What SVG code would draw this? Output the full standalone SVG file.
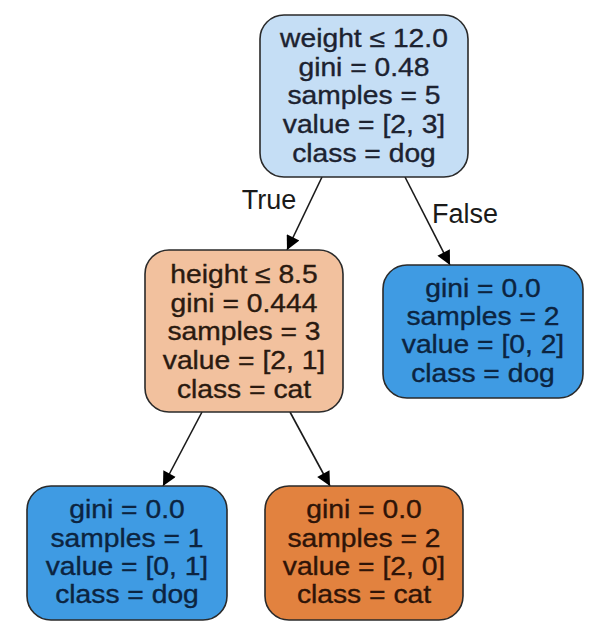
<svg xmlns="http://www.w3.org/2000/svg" width="600" height="634" viewBox="0 0 600 634">
<defs>
<style>
.node rect{stroke:#2a2a2a;stroke-width:1.6}
.node text{font-family:"Liberation Sans",Arial,sans-serif;font-size:25px;text-anchor:middle;stroke-width:0.35}
.edge line{stroke:#1a1a1a;stroke-width:1.6}
.elabel{font-family:"Liberation Sans",Arial,sans-serif;font-size:27px;text-anchor:middle;fill:#1a1a1a}
</style>
<marker id="arr" viewBox="0 0 10 10" refX="10" refY="5" markerWidth="20" markerHeight="14" markerUnits="userSpaceOnUse" orient="auto">
<path d="M0,0 L10,5 L0,10 z" fill="#000"/>
</marker>
</defs>
<rect width="600" height="634" fill="#fff"/>
<g id="edges" class="edge">
<line x1="322" y1="177" x2="287" y2="250" marker-end="url(#arr)"/>
<line x1="405" y1="177" x2="450" y2="265" marker-end="url(#arr)"/>
<line x1="202" y1="412" x2="163" y2="486" marker-end="url(#arr)"/>
<line x1="290" y1="412" x2="330" y2="486" marker-end="url(#arr)"/>
<text class="elabel" x="269" y="209">True</text>
<text class="elabel" x="465" y="223">False</text>
</g>
<g id="node0" class="node">
<rect x="260" y="15" width="208" height="162" rx="24" fill="#c5def5"/>
<g fill="#1c2230" stroke="#1c2230" transform="matrix(1.13 0 0 1 -47.32 0)">
<text x="364" y="47">weight ≤ 12.0</text>
<text x="364" y="76">gini = 0.48</text>
<text x="364" y="104">samples = 5</text>
<text x="364" y="133">value = [2, 3]</text>
<text x="364" y="162">class = dog</text>
</g>
</g>
<g id="node1" class="node">
<rect x="145" y="250" width="198" height="162" rx="24" fill="#f2c19e"/>
<g fill="#2a1a10" stroke="#2a1a10" transform="matrix(1.13 0 0 1 -31.72 0)">
<text x="244" y="283">height ≤ 8.5</text>
<text x="244" y="312">gini = 0.444</text>
<text x="244" y="340">samples = 3</text>
<text x="244" y="369">value = [2, 1]</text>
<text x="244" y="398">class = cat</text>
</g>
</g>
<g id="node4" class="node">
<rect x="383" y="265" width="200" height="133" rx="24" fill="#3f9be3"/>
<g fill="#0c2440" stroke="#0c2440" transform="matrix(1.13 0 0 1 -62.79 0)">
<text x="483" y="297">gini = 0.0</text>
<text x="483" y="325">samples = 2</text>
<text x="483" y="353">value = [0, 2]</text>
<text x="483" y="382">class = dog</text>
</g>
</g>
<g id="node2" class="node">
<rect x="27" y="486" width="200" height="134" rx="24" fill="#3f9be3"/>
<g fill="#0c2440" stroke="#0c2440" transform="matrix(1.13 0 0 1 -16.51 0)">
<text x="127" y="518">gini = 0.0</text>
<text x="127" y="547">samples = 1</text>
<text x="127" y="575">value = [0, 1]</text>
<text x="127" y="603">class = dog</text>
</g>
</g>
<g id="node3" class="node">
<rect x="265" y="486" width="198" height="134" rx="24" fill="#e2823f"/>
<g fill="#2e1408" stroke="#2e1408" transform="matrix(1.13 0 0 1 -47.32 0)">
<text x="364" y="518">gini = 0.0</text>
<text x="364" y="547">samples = 2</text>
<text x="364" y="575">value = [2, 0]</text>
<text x="364" y="603">class = cat</text>
</g>
</g>
</svg>
